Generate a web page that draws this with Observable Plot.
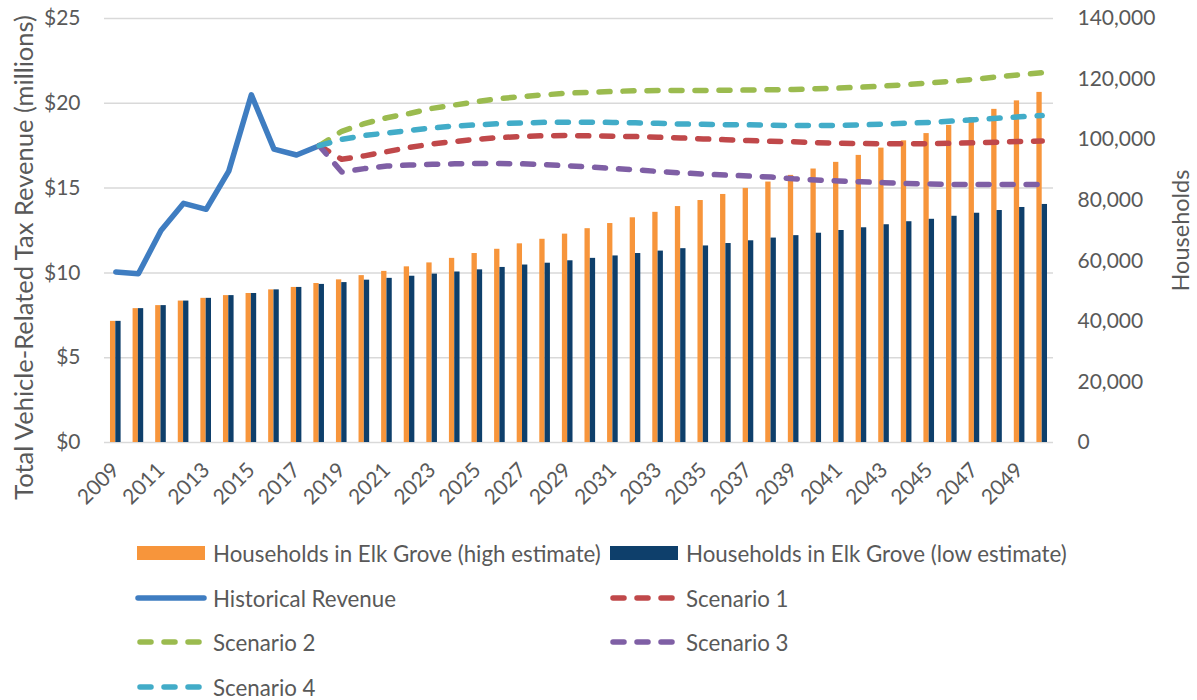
<!DOCTYPE html>
<html>
<head>
<meta charset="utf-8">
<script src="https://cdn.jsdelivr.net/npm/d3@7"></script>
<script src="https://cdn.jsdelivr.net/npm/@observablehq/plot@0.6"></script>
<style>
  body { margin: 0; background: #fff; font-family: Lato, "Liberation Sans", sans-serif; }
  #wrap { width: 1197px; height: 700px; position: relative; overflow: hidden; }
  #legend { position: absolute; left: 0; top: 520px; width: 1197px; height: 180px; }
  .item { position: absolute; display: flex; align-items: center; font-size: 22.3px; color: #595959; white-space: nowrap; }
  .item svg { margin-right: 6px; }
</style>
</head>
<body>
<div id="wrap"><div id="chart"></div><div id="legend"></div></div>
<script>
// ---- Data ----
const years = [2009, 2010, 2011, 2012, 2013, 2014, 2015, 2016, 2017, 2018, 2019, 2020, 2021, 2022, 2023, 2024, 2025, 2026, 2027, 2028, 2029,
               2030, 2031, 2032, 2033, 2034, 2035, 2036, 2037, 2038, 2039, 2040, 2041, 2042, 2043, 2044, 2045, 2046, 2047, 2048, 2049, 2050];
const householdsHigh = [40000, 44200, 45200, 46700, 47600, 48500, 49200, 50400, 51200, 52500, 53700, 55100, 56500, 58000, 59300, 60800, 62400, 63800, 65600, 67100, 68800,
                        70600, 72300, 74200, 76000, 77900, 79900, 81900, 83900, 86000, 88200, 90300, 92500, 94800, 97200, 99600, 102000, 104700, 107300, 110000, 112800, 115600];
const householdsLow = [40000, 44200, 45200, 46700, 47600, 48500, 49200, 50400, 51200, 52200, 52800, 53600, 54200, 54900, 55600, 56300, 57000, 57800, 58600, 59200, 60000,
                       60800, 61600, 62400, 63200, 64000, 64900, 65700, 66600, 67500, 68300, 69100, 70000, 70900, 71900, 72900, 73700, 74700, 75700, 76600, 77600, 78600];
const historicalYears = [2009, 2010, 2011, 2012, 2013, 2014, 2015, 2016, 2017, 2018];
const historicalRevenue = [10.05, 9.95, 12.5, 14.1, 13.75, 16.0, 20.5, 17.3, 16.95, 17.5];
const scenarioYears = [2018, 2019, 2020, 2021, 2022, 2023, 2024, 2025, 2026, 2027, 2028, 2029, 2030, 2031, 2032, 2033, 2034,
                       2035, 2036, 2037, 2038, 2039, 2040, 2041, 2042, 2043, 2044, 2045, 2046, 2047, 2048, 2049, 2050];
const scenario1 = [17.5, 16.7, 16.9, 17.15, 17.4, 17.6, 17.75, 17.88, 17.98, 18.05, 18.09, 18.1, 18.08, 18.06, 18.04, 18.0, 17.96,
                   17.9, 17.85, 17.8, 17.76, 17.73, 17.68, 17.64, 17.63, 17.61, 17.61, 17.62, 17.64, 17.67, 17.71, 17.75, 17.78];
const scenario2 = [17.5, 18.35, 18.8, 19.15, 19.4, 19.7, 19.9, 20.1, 20.28, 20.4, 20.5, 20.6, 20.65, 20.7, 20.74, 20.75, 20.76,
                   20.76, 20.77, 20.78, 20.8, 20.82, 20.86, 20.9, 20.95, 21.02, 21.1, 21.2, 21.3, 21.42, 21.55, 21.68, 21.8];
const scenario3 = [17.5, 15.95, 16.15, 16.3, 16.36, 16.4, 16.43, 16.45, 16.45, 16.43, 16.38, 16.32, 16.24, 16.16, 16.08, 15.98, 15.9,
                   15.83, 15.77, 15.71, 15.65, 15.55, 15.48, 15.42, 15.37, 15.32, 15.27, 15.24, 15.22, 15.21, 15.21, 15.21, 15.21];
const scenario4 = [17.5, 17.87, 18.1, 18.25, 18.4, 18.55, 18.66, 18.73, 18.8, 18.84, 18.88, 18.89, 18.89, 18.87, 18.85, 18.82, 18.78,
                   18.76, 18.74, 18.73, 18.71, 18.69, 18.69, 18.7, 18.73, 18.78, 18.83, 18.87, 18.95, 19.03, 19.12, 19.2, 19.28];
const revenueTicks = [0, 5, 10, 15, 20, 25];
const householdTicks = [0, 20000, 40000, 60000, 80000, 100000, 120000, 140000];
const yearTicks = [2009, 2011, 2013, 2015, 2017, 2019, 2021, 2023, 2025, 2027, 2029, 2031, 2033, 2035, 2037, 2039, 2041, 2043, 2045, 2047, 2049];
const leftTitle = "Total Vehicle-Related Tax Revenue (millions)";
const rightTitle = "Households";

const series = [
  {name: "Households in Elk Grove (high estimate)", kind: "bar", color: "#F7953B", values: householdsHigh},
  {name: "Households in Elk Grove (low estimate)", kind: "bar", color: "#0E3F6B", values: householdsLow},
  {name: "Historical Revenue", kind: "solid", color: "#3F7DC1", years: historicalYears, values: historicalRevenue},
  {name: "Scenario 1", kind: "dash", color: "#C0484A", years: scenarioYears, values: scenario1},
  {name: "Scenario 2", kind: "dash", color: "#9BBB4F", years: scenarioYears, values: scenario2},
  {name: "Scenario 3", kind: "dash", color: "#7F5FA5", years: scenarioYears, values: scenario3},
  {name: "Scenario 4", kind: "dash", color: "#42ACC8", years: scenarioYears, values: scenario4}
];

// revenue ($M) mapped onto household scale
const K = householdTicks[householdTicks.length - 1] / revenueTicks[revenueTicks.length - 1];

const W = 1197, H = 520, mL = 104, mR = 144, mT = 18, mB = 78;
const bw = (W - mL - mR) / years.length;
const barW = bw * 0.235;
const side = (bw - 2 * barW) / 2;

const highData = years.map((y, i) => ({year: y, value: householdsHigh[i]}));
const lowData = years.map((y, i) => ({year: y, value: householdsLow[i]}));
const lineData = s => s.years.map((y, i) => ({year: y, value: s.values[i] * K}));

const marks = [
  Plot.ruleY(revenueTicks, {y: d => d * K, stroke: "#D9D9D9", strokeWidth: 1.5}),
  Plot.barY(highData, {x: "year", y: "value", fill: series[0].color, insetLeft: side, insetRight: side + barW}),
  Plot.barY(lowData, {x: "year", y: "value", fill: series[1].color, insetLeft: side + barW, insetRight: side})
];
for (const s of series.slice(2)) {
  marks.push(Plot.line(lineData(s), {
    x: "year", y: "value", stroke: s.color, strokeWidth: 5.5,
    strokeLinejoin: "round", strokeLinecap: "round",
    strokeDasharray: s.kind === "dash" ? "11 13" : null
  }));
}
marks.push(
  Plot.axisY(revenueTicks.map(d => d * K), {anchor: "left", tickSize: 0, tickPadding: 24, fontSize: 21, label: null,
    tickFormat: d => "$" + Math.round(d / K)}),
  Plot.axisY(householdTicks, {anchor: "right", tickSize: 0, tickPadding: 24, fontSize: 21, label: null,
    tickFormat: d3.format(",")}),
  Plot.axisX(yearTicks, {anchor: "bottom", tickSize: 0, tickPadding: 24, tickRotate: -45, fontSize: 21, label: null,
    dx: 0, tickFormat: d => String(d)}),
  Plot.text([leftTitle], {frameAnchor: "left", dx: -80, dy: 27, rotate: -90, textAnchor: "middle", fontSize: 25.5, fill: "#595959"}),
  Plot.text([rightTitle], {frameAnchor: "right", dx: 128, rotate: -90, textAnchor: "middle", fontSize: 23.5, fill: "#595959"})
);

const chart = Plot.plot({
  width: W, height: H,
  marginLeft: mL, marginRight: mR, marginTop: mT, marginBottom: mB,
  style: {fontFamily: "Lato, 'Liberation Sans', sans-serif", color: "#595959", background: "#fff", overflow: "visible"},
  x: {type: "band", domain: years, paddingInner: 0, paddingOuter: 0, round: false},
  y: {domain: [householdTicks[0], householdTicks[householdTicks.length - 1]]},
  marks
});
document.getElementById("chart").appendChild(chart);

// ---- Legend ----
const legend = document.getElementById("legend");
const pos = [[135, 33], [608, 33], [135, 78], [608, 78], [135, 122], [608, 122], [135, 167]];
series.forEach((s, i) => {
  const el = document.createElement("div");
  el.className = "item";
  el.style.left = pos[i][0] + "px";
  el.style.top = (pos[i][1] - 15) + "px";
  el.style.height = "30px";
  let sw;
  if (s.kind === "bar") {
    sw = `<svg width="72" height="16"><rect x="2" y="1" width="68" height="14" fill="${s.color}"/></svg>`;
  } else if (s.kind === "solid") {
    sw = `<svg width="72" height="16"><line x1="3" x2="69" y1="8" y2="8" stroke="${s.color}" stroke-width="5.5" stroke-linecap="round"/></svg>`;
  } else {
    sw = `<svg width="72" height="16"><line x1="5" x2="69" y1="8" y2="8" stroke="${s.color}" stroke-width="5.5" stroke-linecap="round" stroke-dasharray="11 13"/></svg>`;
  }
  el.innerHTML = sw + `<span>${s.name}</span>`;
  legend.appendChild(el);
});
</script>
</body>
</html>
